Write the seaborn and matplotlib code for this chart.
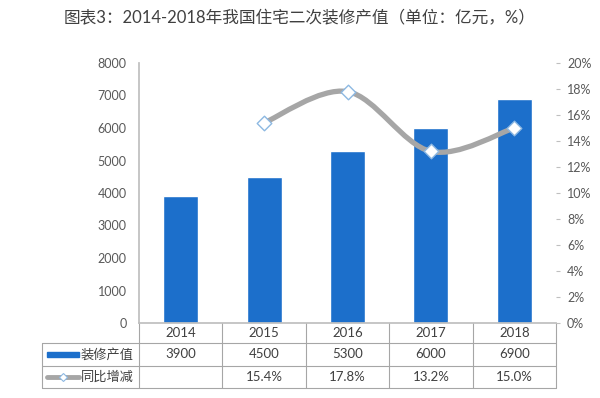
import matplotlib
matplotlib.use("Agg")
import matplotlib.pyplot as plt
import numpy as np
import seaborn as sns
from matplotlib.lines import Line2D
from matplotlib.patches import Rectangle, PathPatch
from matplotlib.path import Path

# data
years = ["2014", "2015", "2016", "2017", "2018"]
output_value = [3900, 4500, 5300, 6000, 6900]          # 亿元
yoy_growth = [None, 15.4, 17.8, 13.2, 15.0]            # %
left_ticks = [0, 1000, 2000, 3000, 4000, 5000, 6000, 7000, 8000]
right_ticks = [0, 2, 4, 6, 8, 10, 12, 14, 16, 18, 20]

BAR_BLUE = "#1C6FCB"
LINE_GRAY = "#A6A6A6"
MARKER_EDGE = "#8DB8E2"
GRID_GRAY = "#BFBFBF"
TEXT_GRAY = "#595959"

sns.set_theme(style="white")
plt.rcParams["font.family"] = ["Lato", "Noto Sans CJK SC", "DejaVu Sans"]

fig = plt.figure(figsize=(6.0, 3.98), dpi=100)
ax = fig.add_axes([139 / 600, 75 / 398, 417 / 600, 260 / 398])

sns.barplot(x=years, y=output_value, color=BAR_BLUE, width=0.42,
            saturation=1, ax=ax)
ax.set_xlim(-0.5, 4.5)
ax.set_ylim(0, 8000)
ax.set_yticks(left_ticks)
ax.set_yticklabels([str(t) for t in left_ticks])
ax.tick_params(axis="y", length=0, pad=9, labelsize=9, labelcolor=TEXT_GRAY)
ax.set_xticks([])
ax.set_xlabel("")
ax.set_ylabel("")
for side in ["top", "right"]:
    ax.spines[side].set_visible(False)
ax.spines["left"].set_color(GRID_GRAY)
ax.spines["bottom"].set_color(GRID_GRAY)

# growth rate on the secondary axis, drawn as a smoothed line like Excel
ax2 = ax.twinx()
ax2.set_ylim(0, 20)
ax2.set_yticks(right_ticks)
ax2.set_yticklabels([f"{t}%" for t in right_ticks])
ax2.tick_params(axis="y", length=3, width=0.8, color=GRID_GRAY, pad=5,
                labelsize=9, labelcolor=TEXT_GRAY)
for side in ax2.spines:
    ax2.spines[side].set_visible(False)

gx = [i for i, v in enumerate(yoy_growth) if v is not None]
gy = [v for v in yoy_growth if v is not None]
pts = np.column_stack([gx, gy])
verts = [pts[0]]
codes = [Path.MOVETO]
for i in range(len(pts) - 1):
    p_prev = pts[i - 1] if i > 0 else pts[i]
    p_next2 = pts[i + 2] if i + 2 < len(pts) else pts[i + 1]
    c1 = pts[i] + (pts[i + 1] - p_prev) / 6
    c2 = pts[i + 1] - (p_next2 - pts[i]) / 6
    verts += [c1, c2, pts[i + 1]]
    codes += [Path.CURVE4] * 3
ax2.add_patch(PathPatch(Path(verts, codes), facecolor="none",
                        edgecolor=LINE_GRAY, lw=3.8, capstyle="round",
                        zorder=3))
ax2.scatter(gx, gy, marker="D", s=55, facecolor="white",
            edgecolor=MARKER_EDGE, linewidth=1.0, zorder=4)

# data table under the plot
tr = ax.get_xaxis_transform()
tab_left = -0.5 - 97 / 83.4
row_lines = [-20 / 260, -43 / 260, -65 / 260]
for y in row_lines:
    ax.add_line(Line2D([tab_left, 4.5], [y, y], transform=tr,
                       color="#A6A6A6", lw=0.8, clip_on=False))
for xb in np.arange(-0.5, 5.0, 1.0):
    ax.add_line(Line2D([xb, xb], [0, row_lines[-1]], transform=tr,
                       color="#A6A6A6", lw=0.8, clip_on=False))
ax.add_line(Line2D([tab_left, tab_left], [row_lines[0], row_lines[-1]],
                   transform=tr, color="#A6A6A6", lw=0.8, clip_on=False))

row_centres = [-10 / 260, -31.5 / 260, -54 / 260]
for i, yr in enumerate(years):
    ax.text(i, row_centres[0], yr, transform=tr, ha="center", va="center",
            fontsize=9.5, color="#404040")
    ax.text(i, row_centres[1], str(output_value[i]), transform=tr,
            ha="center", va="center", fontsize=9.5, color="#404040")
    if yoy_growth[i] is not None:
        ax.text(i, row_centres[2], f"{yoy_growth[i]:.1f}%", transform=tr,
                ha="center", va="center", fontsize=9.5, color="#404040")

# legend keys in the first table column
key_x0 = -0.5 - 92 / 83.4
key_x1 = -0.5 - 60 / 83.4
ax.add_patch(Rectangle((key_x0, row_centres[1] - 0.011), key_x1 - key_x0,
                       0.022, transform=tr, color=BAR_BLUE, clip_on=False))
ax.add_line(Line2D([key_x0, key_x1], [row_centres[2]] * 2, transform=tr,
                   color=LINE_GRAY, lw=3.5, clip_on=False))
ax.add_line(Line2D([(key_x0 + key_x1) / 2], [row_centres[2]], transform=tr,
                   marker="D", markersize=4, markerfacecolor="white",
                   markeredgecolor=MARKER_EDGE, markeredgewidth=0.8,
                   clip_on=False))
ax.text(key_x1 + 0.02, row_centres[1], "装修产值", transform=tr, ha="left",
        va="center", fontsize=9.5, color="#404040")
ax.text(key_x1 + 0.02, row_centres[2], "同比增减", transform=tr, ha="left",
        va="center", fontsize=9.5, color="#404040")

fig.text(0.5, 1 - 18 / 398, "图表3：2014-2018年我国住宅二次装修产值（单位：亿元，%）",
         ha="center", va="center", fontsize=12, color="#404040")

fig.savefig("out.png", dpi=100)
